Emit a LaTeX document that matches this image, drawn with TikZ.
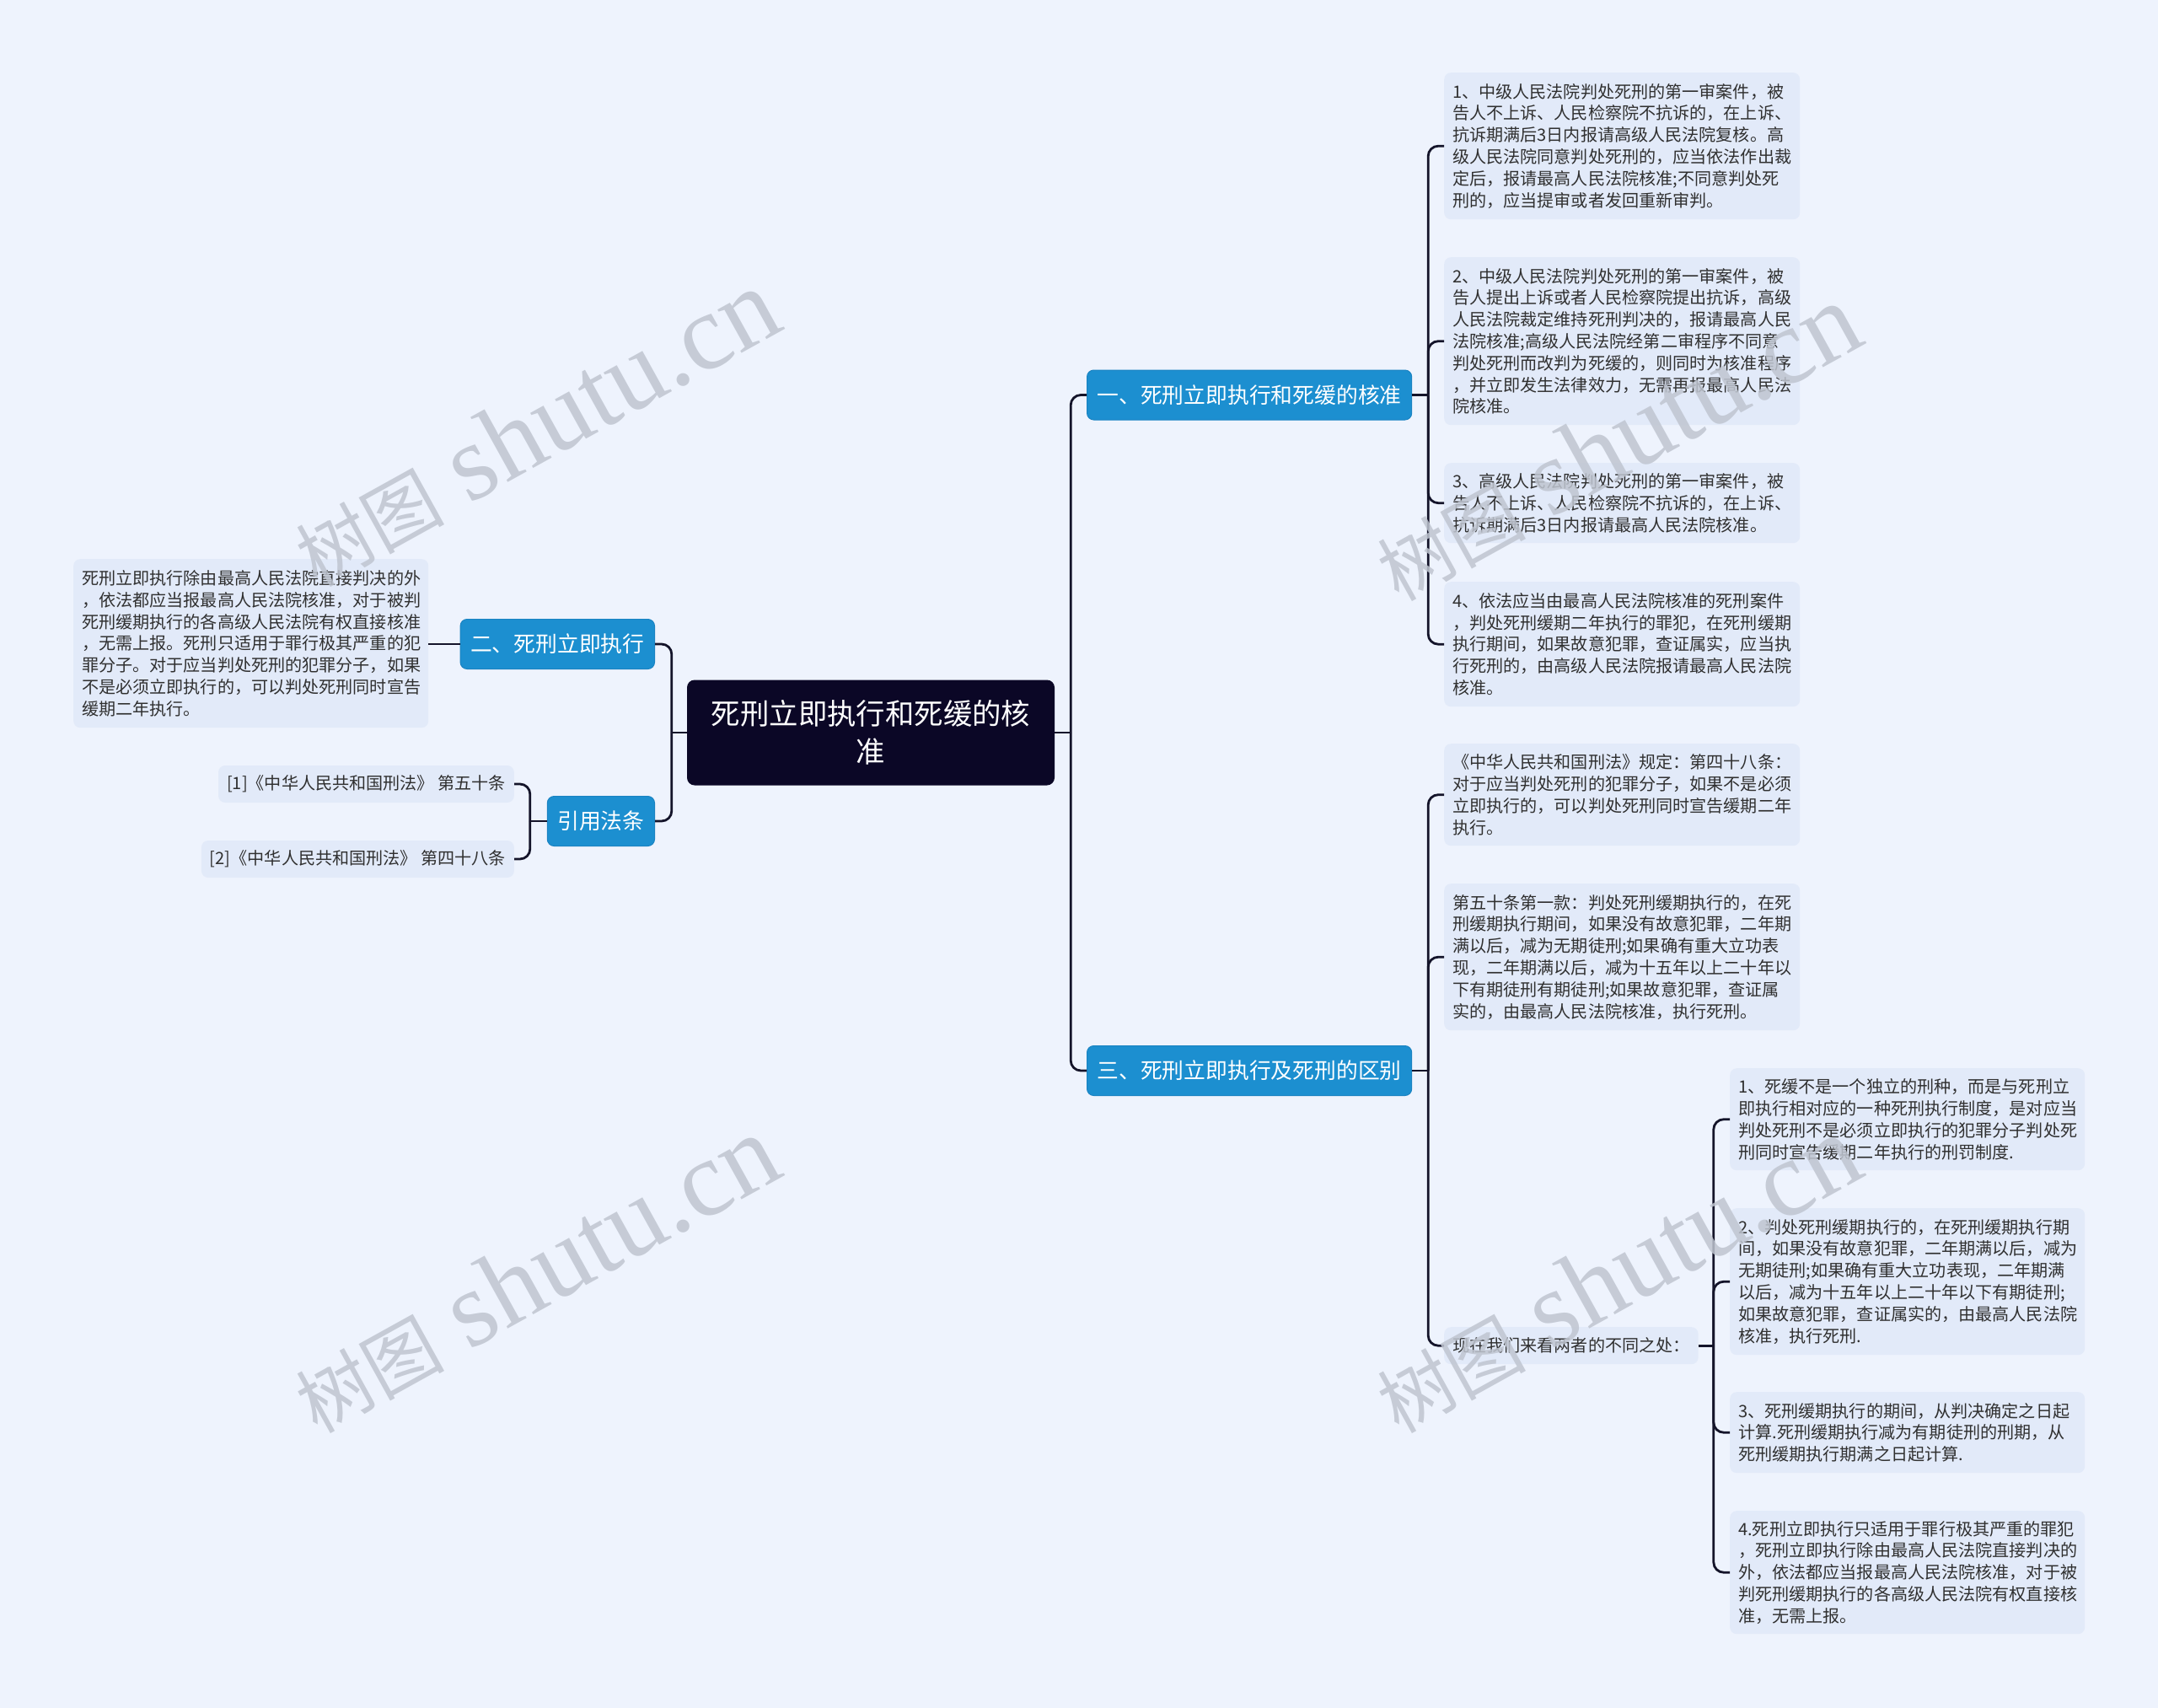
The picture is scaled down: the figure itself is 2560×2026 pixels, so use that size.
\documentclass[tikz,border=0pt]{standalone}
\usepackage{fontspec}
\setmainfont{Noto Sans CJK SC}
\newfontfamily\wmlatin{Liberation Serif}
\newfontfamily\wmcjk{Noto Sans CJK SC}
\definecolor{bgcol}{HTML}{EEF3FD}
\definecolor{leafcol}{HTML}{E2EAF9}
\definecolor{txtcol}{HTML}{303030}
\definecolor{bluecol}{HTML}{1C8FD0}
\definecolor{bluedark}{HTML}{1A83C2}
\definecolor{rootcol}{HTML}{0B0726}
\definecolor{linecol}{HTML}{14142A}
\definecolor{wmcol}{HTML}{BFC5D0}
\begin{document}
\begin{tikzpicture}[x=1pt,y=-1pt,
  conn/.style={draw=linecol, line width=2.8pt, rounded corners=12pt},
  leaf/.style={fill=leafcol, rounded corners=8pt, align=left, inner xsep=10pt, inner ysep=0pt, text=txtcol, font=\fontsize{20.1pt}{25.8pt}\selectfont},
  branch/.style={fill=bluecol, draw=bluedark, line width=1pt, rounded corners=8pt, text=white, inner xsep=12pt, inner ysep=0pt, minimum height=59pt, font=\fontsize{25.8pt}{30pt}\selectfont},
  root/.style={fill=rootcol, rounded corners=9pt, text=white, align=center, minimum width=436pt, minimum height=125pt, font=\fontsize{34.4pt}{45pt}\selectfont},
  wm/.style={text=wmcol, rotate=29, inner sep=0pt, opacity=0.85}
]
\fill[bgcol] (0,0) rectangle (2560,2026);
\useasboundingbox (0,0) rectangle (2560,2026);

% root
\node[root] (c) at (1033,869) {死刑立即执行和死缓的核\\准};

% branches
\node[branch, anchor=west] (b1) at (1289,468.5) {一、死刑立即执行和死缓的核准};
\node[branch, anchor=west] (b3) at (1289,1270) {三、死刑立即执行及死刑的区别};
\node[branch, anchor=east] (b2) at (777,764) {二、死刑立即执行};
\node[branch, anchor=east] (bR) at (777,974) {引用法条};

% leaves of branch 1
\node[leaf, anchor=north west, text width=402pt, minimum height=174pt] (L1) at (1713,86) {1、中级人民法院判处死刑的第一审案件，被\\告人不上诉、人民检察院不抗诉的，在上诉、\\抗诉期满后3日内报请高级人民法院复核。高\\级人民法院同意判处死刑的，应当依法作出裁\\定后，报请最高人民法院核准;不同意判处死\\刑的，应当提审或者发回重新审判。};
\node[leaf, anchor=north west, text width=402pt, minimum height=199pt] (L2) at (1713,305) {2、中级人民法院判处死刑的第一审案件，被\\告人提出上诉或者人民检察院提出抗诉，高级\\人民法院裁定维持死刑判决的，报请最高人民\\法院核准;高级人民法院经第二审程序不同意\\判处死刑而改判为死缓的，则同时为核准程序\\，并立即发生法律效力，无需再报最高人民法\\院核准。};
\node[leaf, anchor=north west, text width=402pt, minimum height=95pt] (L3) at (1713,549) {3、高级人民法院判处死刑的第一审案件，被\\告人不上诉、人民检察院不抗诉的，在上诉、\\抗诉期满后3日内报请最高人民法院核准。};
\node[leaf, anchor=north west, text width=402pt, minimum height=148pt] (L4) at (1713,690) {4、依法应当由最高人民法院核准的死刑案件\\，判处死刑缓期二年执行的罪犯，在死刑缓期\\执行期间，如果故意犯罪，查证属实，应当执\\行死刑的，由高级人民法院报请最高人民法院\\核准。};

% leaves of branch 3
\node[leaf, anchor=north west, text width=402pt, minimum height=121pt] (M1) at (1713,882) {《中华人民共和国刑法》规定：第四十八条：\\对于应当判处死刑的犯罪分子，如果不是必须\\立即执行的，可以判处死刑同时宣告缓期二年\\执行。};
\node[leaf, anchor=north west, text width=402pt, minimum height=174pt] (M2) at (1713,1048) {第五十条第一款：判处死刑缓期执行的，在死\\刑缓期执行期间，如果没有故意犯罪，二年期\\满以后，减为无期徒刑;如果确有重大立功表\\现，二年期满以后，减为十五年以上二十年以\\下有期徒刑有期徒刑;如果故意犯罪，查证属\\实的，由最高人民法院核准，执行死刑。};
\node[leaf, anchor=north west, minimum height=44pt] (M3) at (1713,1574) {现在我们来看两者的不同之处：};

% sub-leaves
\node[leaf, anchor=north west, text width=401pt, minimum height=121pt] (S1) at (2052,1267) {1、死缓不是一个独立的刑种，而是与死刑立\\即执行相对应的一种死刑执行制度，是对应当\\判处死刑不是必须立即执行的犯罪分子判处死\\刑同时宣告缓期二年执行的刑罚制度.};
\node[leaf, anchor=north west, text width=401pt, minimum height=174pt] (S2) at (2052,1433) {2、判处死刑缓期执行的，在死刑缓期执行期\\间，如果没有故意犯罪，二年期满以后，减为\\无期徒刑;如果确有重大立功表现，二年期满\\以后，减为十五年以上二十年以下有期徒刑;\\如果故意犯罪，查证属实的，由最高人民法院\\核准，执行死刑.};
\node[leaf, anchor=north west, text width=401pt, minimum height=96pt] (S3) at (2052,1651) {3、死刑缓期执行的期间，从判决确定之日起\\计算.死刑缓期执行减为有期徒刑的刑期，从\\死刑缓期执行期满之日起计算.};
\node[leaf, anchor=north west, text width=401pt, minimum height=146pt] (S4) at (2052,1792) {4.死刑立即执行只适用于罪行极其严重的罪犯\\，死刑立即执行除由最高人民法院直接判决的\\外，依法都应当报最高人民法院核准，对于被\\判死刑缓期执行的各高级人民法院有权直接核\\准，无需上报。};

% left side leaves
\node[leaf, anchor=north west, text width=401pt, minimum height=200pt] (LL) at (87,663) {死刑立即执行除由最高人民法院直接判决的外\\，依法都应当报最高人民法院核准，对于被判\\死刑缓期执行的各高级人民法院有权直接核准\\，无需上报。死刑只适用于罪行极其严重的犯\\罪分子。对于应当判处死刑的犯罪分子，如果\\不是必须立即执行的，可以判处死刑同时宣告\\缓期二年执行。};
\node[leaf, anchor=east, minimum height=44pt] (R1) at (610,930) {[1]《中华人民共和国刑法》 第五十条};
\node[leaf, anchor=east, minimum height=44pt] (R2) at (610,1019) {[2]《中华人民共和国刑法》 第四十八条};

% connectors
\coordinate (t1) at ([xshift=19pt]c.east);
\draw[conn] (c.east) -- (t1);
\draw[conn] (t1) |- (b1.west);
\draw[conn] (t1) |- (b3.west);

\coordinate (t2) at ([xshift=19pt]b1.east);
\draw[conn] (b1.east) -- (t2);
\foreach \n in {L1,L2,L3,L4} {\draw[conn] (t2) |- (\n.west);}

\coordinate (t3) at ([xshift=19pt]b3.east);
\draw[conn] (b3.east) -- (t3);
\foreach \n in {M1,M2,M3} {\draw[conn] (t3) |- (\n.west);}

\coordinate (t4) at ([xshift=18pt]M3.east);
\draw[conn] (M3.east) -- (t4);
\foreach \n in {S1,S2,S3,S4} {\draw[conn] (t4) |- (\n.west);}

\coordinate (t5) at ([xshift=-18pt]c.west);
\draw[conn] (c.west) -- (t5);
\draw[conn] (t5) |- (b2.east);
\draw[conn] (t5) |- (bR.east);

\draw[conn] (b2.west) -- (b2.west -| LL.east);

\coordinate (t6) at ([xshift=-20pt]bR.west);
\draw[conn] (bR.west) -- (t6);
\draw[conn] (t6) |- (R1.east);
\draw[conn] (t6) |- (R2.east);

% watermarks
\foreach \p/\nm in {{(635,508)}/w1,{(1918,525)}/w2,{(635,1512)}/w3,{(1918,1512)}/w4} {
  \node[wm] (\nm) at \p {\fontsize{88pt}{90pt}\wmcjk 树图\hspace{30pt}\fontsize{128pt}{130pt}\wmlatin shutu.cn};
}
\end{tikzpicture}
\end{document}
